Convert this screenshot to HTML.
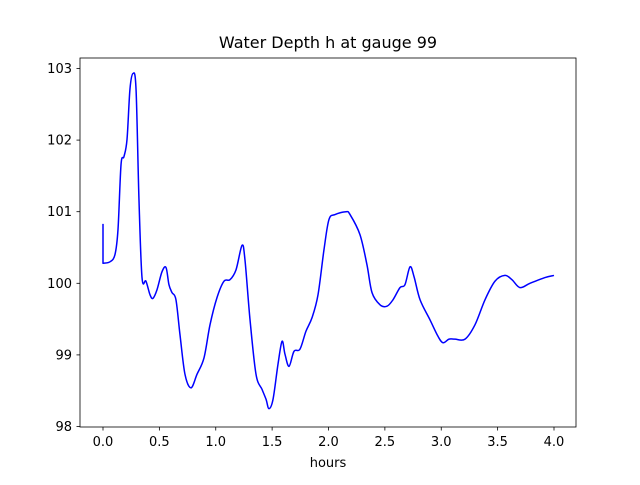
<!DOCTYPE html>
<html><head><meta charset="utf-8"><style>
body{margin:0;background:#fff}
svg text{font-family:"DejaVu Sans","Liberation Sans",sans-serif;font-size:13px;fill:#000}
</style></head><body>
<svg id="chart" width="640" height="480">
<rect width="640" height="480" fill="#fff"/>
<text x="328" y="48" text-anchor="middle" style="font-size:16px">Water Depth h at gauge 99</text>
<g id="xt"></g>
<g id="yt"></g>
<path id="line" fill="none" stroke="#0000ff" stroke-width="1.5" stroke-linejoin="round"/>
<rect x="80" y="58" width="496" height="369" fill="none" stroke="#000" stroke-width="0.8"/>
<text x="328" y="467" text-anchor="middle">hours</text>
</svg>
<script>
const times=[0,0,.062,.106,.133,.160,.186,.213,.239,.266,.293,.319,.346,.381,.417,.443,.479,.523,.559,.585,.612,.647,.683,.727,.780,.834,.896,.949,1.011,1.073,1.126,1.180,1.233,1.259,1.304,1.357,1.410,1.446,1.472,1.508,1.552,1.588,1.614,1.650,1.694,1.747,1.800,1.854,1.907,1.960,2.004,2.058,2.155,2.191,2.279,2.341,2.386,2.457,2.519,2.572,2.634,2.678,2.723,2.759,2.812,2.900,2.971,3.016,3.069,3.122,3.211,3.299,3.388,3.477,3.565,3.627,3.698,3.787,3.920,4.0];
const depths=[100.83,100.28,100.30,100.40,100.75,101.66,101.77,102.01,102.71,102.93,102.71,101.17,100.08,100.03,99.84,99.79,99.91,100.16,100.22,99.98,99.87,99.77,99.28,98.73,98.54,98.73,98.96,99.42,99.80,100.03,100.05,100.19,100.53,100.33,99.49,98.73,98.52,98.38,98.25,98.38,98.87,99.19,99.01,98.84,99.05,99.08,99.33,99.52,99.84,100.47,100.89,100.96,101.00,100.96,100.68,100.26,99.87,99.70,99.68,99.77,99.94,99.98,100.23,100.09,99.77,99.49,99.26,99.17,99.22,99.22,99.22,99.42,99.77,100.03,100.11,100.05,99.94,100.00,100.08,100.11];
const xTicks=[0,0.5,1,1.5,2,2.5,3,3.5,4];
const xTickLabels=["0.0","0.5","1.0","1.5","2.0","2.5","3.0","3.5","4.0"];
const yTicks=[98,99,100,101,102,103];
const yTickLabels=["98","99","100","101","102","103"];
const X=t=>103+t*112.75, Y=h=>426.5-(h-98)*71.6;
const NS="http://www.w3.org/2000/svg";
const xt=document.getElementById('xt'), yt=document.getElementById('yt');
xTicks.forEach((v,i)=>{
 const l=document.createElementNS(NS,'line');
 
 
 l.setAttribute('x1',X(v));l.setAttribute('x2',X(v));l.setAttribute('y1',427);l.setAttribute('y2',430.5);l.setAttribute('stroke','#000');l.setAttribute('stroke-width','0.8');xt.appendChild(l);
 const t=document.createElementNS(NS,'text');
 
 
 t.setAttribute('x',X(v));t.setAttribute('y',446);t.setAttribute('text-anchor','middle');t.textContent=xTickLabels[i];xt.appendChild(t);
});
yTicks.forEach((v,i)=>{
 const l=document.createElementNS(NS,'line');
 
 
 l.setAttribute('x1',76.5);l.setAttribute('x2',80);l.setAttribute('y1',Y(v));l.setAttribute('y2',Y(v));l.setAttribute('stroke','#000');l.setAttribute('stroke-width','0.8');yt.appendChild(l);
 const t=document.createElementNS(NS,'text');
 
 
 t.setAttribute('x',72);t.setAttribute('y',Y(v)+4.5);t.setAttribute('text-anchor','end');t.textContent=yTickLabels[i];yt.appendChild(t);
});
let d='M'+X(times[0])+','+Y(depths[0])+' L'+X(times[1])+','+Y(depths[1]);
const P=times.map((t,i)=>[X(t),Y(depths[i])]);
for(let i=1;i<P.length-1;i++){
 const p0=P[Math.max(1,i-1)],p1=P[i],p2=P[i+1],p3=P[Math.min(P.length-1,i+2)];
 const c1=[p1[0]+(p2[0]-p0[0])/6,p1[1]+(p2[1]-p0[1])/6];
 const c2=[p2[0]-(p3[0]-p1[0])/6,p2[1]-(p3[1]-p1[1])/6];
 d+=' C'+c1[0]+','+c1[1]+' '+c2[0]+','+c2[1]+' '+p2[0]+','+p2[1];
}
document.getElementById('line').setAttribute('d',d);
</script>
</body></html>
